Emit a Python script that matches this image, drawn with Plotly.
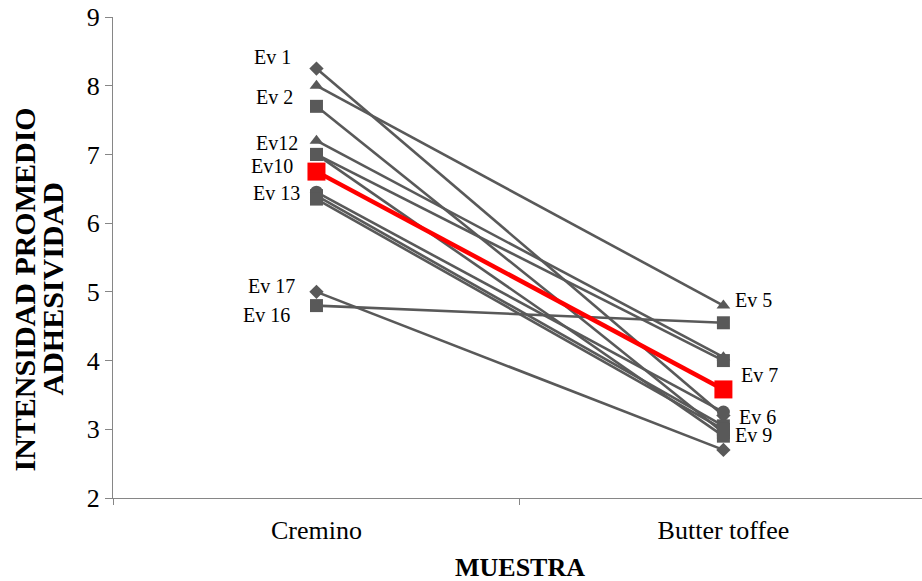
import plotly.graph_objects as go

categories = ["Cremino", "Butter toffee"]

# Gray evaluator series: Cremino value, Butter toffee value, marker
ev_cremino = [8.25, 8.0, 7.7, 7.2, 7.0, 7.0, 6.45, 6.4, 6.35, 5.0, 4.8]
ev_butter = [3.2, 4.8, 2.95, 4.05, 4.0, 2.9, 3.25, 3.05, 3.0, 2.7, 4.55]
ev_symbols = ["diamond", "triangle-up", "square", "triangle-up", "square", "square",
              "circle", "square", "square", "diamond", "square"]

mean_values = [6.75, 3.58]

left_labels = ["Ev 1", "Ev 2", "Ev12", "Ev10", "Ev 13", "Ev 17", "Ev 16"]
left_label_y = [8.42, 7.84, 7.17, 6.83, 6.44, 5.09, 4.66]
left_label_shift = [-23, -21, -16, -21, -14, -19, -24]
right_labels = ["Ev 5", "Ev 7", "Ev 6", "Ev 9"]
right_label_y = [4.88, 3.79, 3.18, 2.92]
right_label_shift = [10, 16, 14, 10]

y_title_lines = ["INTENSIDAD PROMEDIO", "ADHESIVIDAD"]
x_title = "MUESTRA"

GRAY = "#595959"
FONT = "Liberation Serif"

fig = go.Figure()
sizes = {"diamond": 11, "triangle-up": 12, "square": 13, "circle": 13}
for a, b, s in zip(ev_cremino, ev_butter, ev_symbols):
    fig.add_trace(go.Scatter(
        x=categories, y=[a, b], mode="lines+markers",
        line=dict(color=GRAY, width=2.6),
        marker=dict(symbol=s, size=sizes[s], color=GRAY),
        showlegend=False, hoverinfo="skip"))

fig.add_trace(go.Scatter(
    x=categories, y=mean_values, mode="lines+markers",
    line=dict(color="#ff0000", width=4.5),
    marker=dict(symbol="square", size=18, color="#ff0000"),
    showlegend=False))

ann = []
for t, y, sh in zip(left_labels, left_label_y, left_label_shift):
    ann.append(dict(x=categories[0], y=y, text=t, showarrow=False, xanchor="right",
                    yanchor="middle", xshift=sh, font=dict(family=FONT, size=20, color="black")))
for t, y, sh in zip(right_labels, right_label_y, right_label_shift):
    ann.append(dict(x=categories[1], y=y, text=t, showarrow=False, xanchor="left",
                    yanchor="middle", xshift=sh, font=dict(family=FONT, size=20, color="black")))

# Y-axis title (two tightly spaced rotated lines)
for t, xs in zip(y_title_lines, [-89, -61]):
    ann.append(dict(xref="paper", yref="paper", x=0, y=0.5, xshift=xs, yshift=-32,
                    text="<b>%s</b>" % t, showarrow=False, textangle=-90,
                    xanchor="center", yanchor="middle",
                    font=dict(family=FONT, size=30, color="black")))
# X-axis title
ann.append(dict(xref="x", yref="paper", x=0.5, y=0, yshift=-69, text="<b>%s</b>" % x_title,
                showarrow=False, xanchor="center", yanchor="middle",
                font=dict(family=FONT, size=26, color="black")))

fig.update_layout(
    width=922, height=581,
    margin=dict(l=113, r=0, t=17, b=83),
    paper_bgcolor="white", plot_bgcolor="white",
    font=dict(family=FONT, color="black"),
    annotations=ann,
    xaxis=dict(
        type="category", range=[-0.5, 1.488],
        showline=True, linecolor="#868686", linewidth=1,
        ticks="outside", tickson="boundaries", ticklen=6, tickcolor="#868686",
        showgrid=False, zeroline=False,
        tickfont=dict(family=FONT, size=26, color="black"),
        ticklabelstandoff=9,
    ),
    yaxis=dict(
        range=[2, 9], dtick=1,
        showline=True, linecolor="#868686", linewidth=1,
        ticks="outside", ticklen=7, tickcolor="#868686",
        showgrid=False, zeroline=False,
        tickfont=dict(family=FONT, size=26, color="black"),
        ticklabeloverflow="allow",
    ),
)

fig.write_html(
    "out.html",
    config={"displayModeBar": False},
    post_script="document.body.style.margin='0';document.body.style.overflow='hidden';",
)
